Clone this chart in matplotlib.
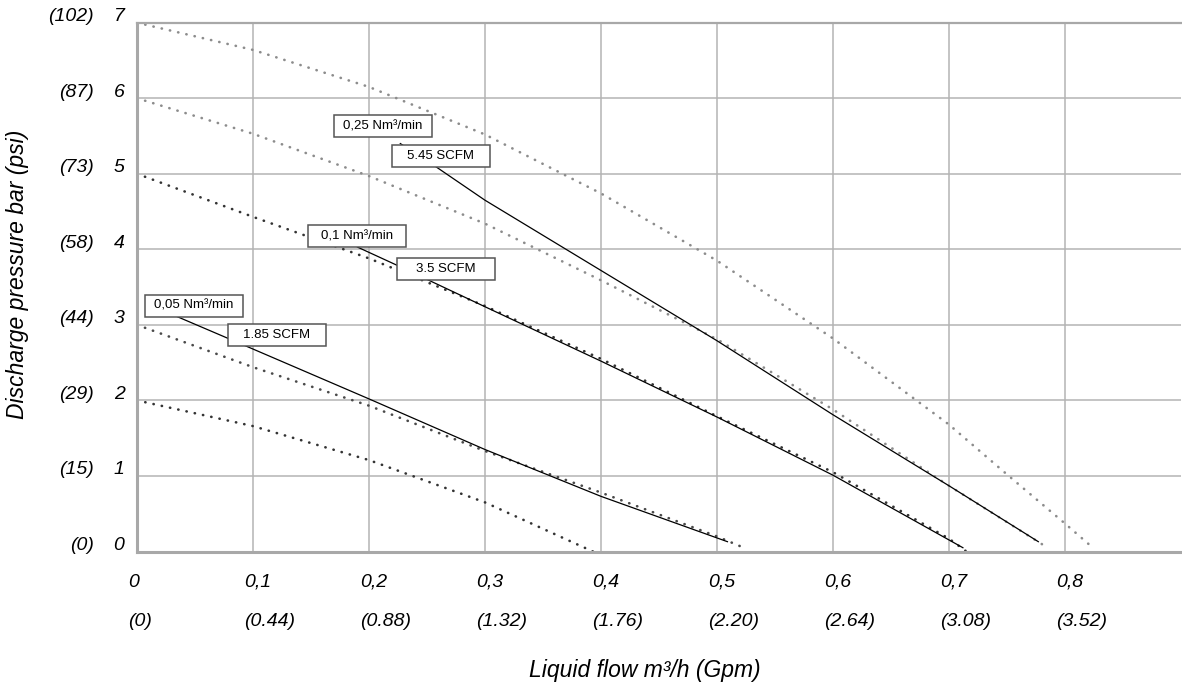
import matplotlib
matplotlib.use("Agg")
import matplotlib.pyplot as plt
import matplotlib.transforms as mtransforms
from matplotlib.patches import Rectangle

plt.rcParams['font.family'] = ['Liberation Sans', 'DejaVu Sans']

# dotted pump curves (flow m3/h, pressure bar)
c7_x = [0, 0.1, 0.2, 0.3, 0.4, 0.5, 0.6, 0.7, 0.75, 0.8, 0.824]
c7_y = [7, 6.64, 6.15, 5.52, 4.74, 3.85, 2.82, 1.68, 1.02, 0.37, 0.05]
c6_x = [0, 0.1, 0.2, 0.3, 0.4, 0.5, 0.6, 0.7, 0.785]
c6_y = [6, 5.53, 4.97, 4.34, 3.59, 2.81, 1.88, 0.87, 0.05]
c5_x = [0, 0.1, 0.2, 0.3, 0.4, 0.5, 0.6, 0.7, 0.715]
c5_y = [5, 4.43, 3.88, 3.25, 2.55, 1.79, 1.05, 0.17, 0.0]
c3_x = [0, 0.1, 0.2, 0.3, 0.4, 0.5, 0.52]
c3_y = [3, 2.44, 1.93, 1.33, 0.78, 0.2, 0.07]
c2_x = [0, 0.1, 0.2, 0.3, 0.393]
c2_y = [2, 1.66, 1.21, 0.65, 0.0]

# solid air consumption lines
la_x = [0.0345, 0.1, 0.2, 0.3, 0.4, 0.509]
la_y = [3.11, 2.68, 2.02, 1.35, 0.73, 0.13]
lb_x = [0.19, 0.224, 0.3, 0.4, 0.5, 0.6, 0.712]
lb_y = [4.03, 3.79, 3.24, 2.52, 1.78, 1.01, 0.05]
lc_x = [0.227, 0.258, 0.3, 0.4, 0.5, 0.6, 0.7, 0.777]
lc_y = [5.40, 5.09, 4.65, 3.72, 2.79, 1.81, 0.87, 0.13]

# label boxes: text, centre x, centre y
box_text = ['0,25 Nm³/min', '5.45 SCFM', '0,1 Nm³/min', '3.5 SCFM', '0,05 Nm³/min', '1.85 SCFM']
box_x = [0.212, 0.262, 0.190, 0.2664, 0.0491, 0.1203]
box_y = [5.63, 5.23, 4.173, 3.744, 3.254, 2.863]

x_ticks = [0, 0.1, 0.2, 0.3, 0.4, 0.5, 0.6, 0.7, 0.8]
x_bar = ['0', '0,1', '0,2', '0,3', '0,4', '0,5', '0,6', '0,7', '0,8']
x_gpm = ['(0)', '(0.44)', '(0.88)', '(1.32)', '(1.76)', '(2.20)', '(2.64)', '(3.08)', '(3.52)']
y_ticks = [0, 1, 2, 3, 4, 5, 6, 7]
y_psi = ['(0)', '(15)', '(29)', '(44)', '(58)', '(73)', '(87)', '(102)']

fig = plt.figure(figsize=(11.82, 6.83), dpi=100)
ax = fig.add_axes([137/1182, 131.5/683, 1044/1182, 528.8/683])
ax.set_xlim(0, 0.9)
ax.set_ylim(0, 7)

grid_c = '#b4b4b4'
ax.grid(True, color=grid_c, linewidth=1.1)
ax.set_axisbelow(True)
for s in ['left', 'bottom']:
    ax.spines[s].set_color('#a8a8a8')
    ax.spines[s].set_linewidth(2.2)
ax.spines['top'].set_color('#a8a8a8')
ax.spines['top'].set_linewidth(1.6)
ax.spines['right'].set_visible(False)

dots = dict(linestyle=(0, (0.1, 3.1)), linewidth=1.9, dash_capstyle='round', zorder=2)
ax.plot(c7_x, c7_y, color='#8c8c8c', **dots)
ax.plot(c6_x, c6_y, color='#8c8c8c', **dots)
ax.plot(c5_x, c5_y, color='#333333', **dots)
ax.plot(c3_x, c3_y, color='#4a4a4a', **dots)
ax.plot(c2_x, c2_y, color='#333333', **dots)

for lx, ly in [(la_x, la_y), (lb_x, lb_y), (lc_x, lc_y)]:
    ax.plot(lx, ly, color='black', linewidth=0.9, zorder=3)

bw = 98 / 1160
bh = 22 / 75.6
for t, bx, by in zip(box_text, box_x, box_y):
    ax.add_patch(Rectangle((bx - bw/2, by - bh/2), bw, bh, facecolor='white',
                           edgecolor='#555555', linewidth=1.1, zorder=4))
    ax.text(bx, by, t, ha='center', va='center', fontsize=9.5, zorder=5)

# ticks
ax.set_xticks(x_ticks)
ax.set_xticklabels([b + '\n' + g for b, g in zip(x_bar, x_gpm)],
                   fontsize=14, style='italic', linespacing=2.7)
ax.set_yticks(y_ticks)
ax.set_yticklabels([str(v) for v in y_ticks], fontsize=14, style='italic')
ax.tick_params(axis='both', length=0)
ax.tick_params(axis='x', pad=16)
ax.tick_params(axis='y', pad=9)
xoff = mtransforms.ScaledTranslation(-9/100, 0, fig.dpi_scale_trans)
for lab in ax.get_xticklabels():
    lab.set_horizontalalignment('left')
    lab.set_multialignment('left')
    lab.set_transform(lab.get_transform() + xoff)
yoff = mtransforms.ScaledTranslation(0, 8/100, fig.dpi_scale_trans)
for lab in ax.get_yticklabels():
    lab.set_transform(lab.get_transform() + yoff)

ytr = mtransforms.blended_transform_factory(ax.transAxes, ax.transData) + yoff
for v, p in zip(y_ticks, y_psi):
    ax.text(-43/1044, v, p, transform=ytr, ha='right', va='center_baseline',
            fontsize=14, style='italic')

ax.set_xlabel('Liquid flow m³/h (Gpm)', fontsize=16.5, style='italic')
ax.xaxis.set_label_coords(0.486, -0.225)
ax.xaxis.label.set_va('center')
ax.set_ylabel('Discharge pressure bar (psi)', fontsize=16.5, style='italic')
ax.yaxis.set_label_coords(-0.114, 0.525)
ax.yaxis.label.set_va('center')

fig.savefig('out.png', dpi=100)
